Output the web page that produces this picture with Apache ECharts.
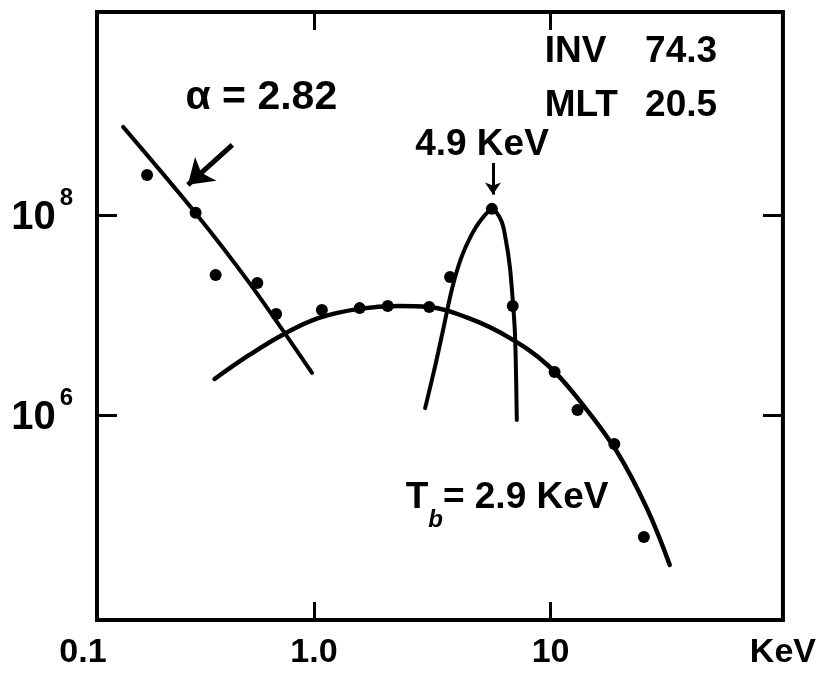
<!DOCTYPE html>
<html><head><meta charset="utf-8">
<script src="https://cdn.jsdelivr.net/npm/echarts@6/dist/echarts.min.js"></script>
<style>html,body{margin:0;padding:0;background:#fff}#c{width:819px;height:674px}</style>
</head><body><div id="c"></div>
<script>
// measured points (energy in keV, flux)
const dotEnergy = [0.197, 0.316, 0.384, 0.576, 0.692, 1.08, 1.56, 2.05, 3.07, 3.76, 5.65, 6.92, 10.4, 13.0, 18.6, 24.8];
const dotFlux   = [2.51e8, 1.05e8, 2.51e7, 2.09e7, 1.02e7, 1.12e7, 1.17e7, 1.23e7, 1.20e7, 2.40e7, 1.15e8, 1.23e7, 2.69e6, 1.12e6, 5.13e5, 6.03e4];
// power-law fit (alpha = 2.82)
const powerLawEnergy = [0.156, 0.313, 0.533, 0.981];
const powerLawFlux   = [7.59e8, 1.07e8, 2.09e7, 2.63e6];
// Maxwellian fit (Tb = 2.9 keV)
const maxwellEnergy = [0.380, 0.533, 0.748, 1.05, 1.55, 2.28, 3.04, 4.48, 6.60, 9.71, 13.6, 19.1, 25.6, 31.9];
const maxwellFlux   = [2.29e6, 3.98e6, 6.46e6, 9.33e6, 1.15e7, 1.23e7, 1.20e7, 9.33e6, 6.03e6, 3.16e6, 1.29e6, 4.27e5, 1.15e5, 3.16e4];
// peaked component (4.9 keV)
const peakEnergy = [2.95, 3.26, 3.55, 3.84, 4.19, 4.61, 5.08, 5.65, 6.17, 6.47, 6.73, 6.92, 7.06, 7.13, 7.20];
const peakFlux   = [1.17e6, 3.16e6, 7.94e6, 1.86e7, 3.72e7, 6.17e7, 8.91e7, 1.12e8, 8.91e7, 5.62e7, 3.02e7, 1.41e7, 7.08e6, 3.31e6, 8.91e5];
// axes
const xMin = 0.121, xMax = 96;
const yMin = 8900, yMax = 1.07e10;
const xTickValues = [1, 10];
const xLabelValues = [0.121, 1, 10, 96];
const xLabelTexts = ['0.1', '1.0', '10', 'KeV'];
const yTickValues = [1e6, 1e8];
const yLabelExps = ['6', '8'];
// annotations
const annotTexts  = ['{a|α = 2.82}', '{g|INV}', '{g|74.3}', '{g|MLT}', '{g|20.5}', '{g|4.9 KeV}', '{g|T}{sub|b}{g|= 2.9 KeV}'];
const annotEnergy = [0.599, 9.44, 25.1, 9.44, 25.1, 5.13, 2.44];
const annotFlux   = [1.48e9, 4.27e9, 4.27e9, 1.23e9, 1.23e9, 5.01e8, 1.48e5];
const annotAlign  = ['center', 'left', 'left', 'left', 'left', 'center', 'left'];
// arrows: [tailE, tailF, headE, headF]
const arrowAlpha = [0.452, 5.01e8, 0.293, 2.0e8];
const arrowPeak  = [5.71, 3.31e8, 5.71, 1.60e8];

const FONT = '"Liberation Sans", Arial, sans-serif';
const chart = echarts.init(document.getElementById('c'), null, {renderer: 'canvas'});

function nearestIdx(arr, v) {
  let best = 0, bd = Infinity;
  arr.forEach((a, i) => { const d = Math.abs(Math.log10(a) - Math.log10(v)); if (d < bd) { bd = d; best = i; } });
  return best;
}

const xBase = {
  type: 'log', min: xMin, max: xMax, splitLine: {show: false}, axisLine: {show: false},
  axisTick: {show: true, inside: true, length: 18, customValues: xTickValues, lineStyle: {color: '#000', width: 3}},
  minorTick: {show: false}
};
const yBase = {
  type: 'log', min: yMin, max: yMax, splitLine: {show: false}, axisLine: {show: false},
  axisTick: {show: true, inside: true, length: 20, customValues: yTickValues, lineStyle: {color: '#000', width: 3}},
  minorTick: {show: false}
};
const curveStyle = {color: '#000', width: 4, cap: 'round', join: 'round'};

const option = {
  animation: false,
  backgroundColor: '#fff',
  grid: {left: 97, right: 32, top: 12, bottom: 54, show: true, borderColor: '#000', borderWidth: 4, backgroundColor: 'transparent'},
  xAxis: [
    Object.assign({}, xBase, {position: 'bottom',
      axisLabel: {show: true, customValues: xLabelValues, margin: 16, color: '#000', fontFamily: FONT, fontSize: 34, fontWeight: 'bold',
        formatter: function (v) { const i = nearestIdx(xLabelValues, v); return i === 0 ? '{f|' + xLabelTexts[i] + '}' : '{l|' + xLabelTexts[i] + '}'; },
        rich: {l: {fontSize: 34, fontWeight: 'bold', fontFamily: FONT, color: '#000'},
               f: {fontSize: 34, fontWeight: 'bold', fontFamily: FONT, color: '#000', padding: [0, 28, 0, 0]}}}}),
    Object.assign({}, xBase, {position: 'top', axisLabel: {show: false}})
  ],
  yAxis: [
    Object.assign({}, yBase, {position: 'left',
      axisLabel: {show: true, customValues: yTickValues, margin: 24, color: '#000',
        formatter: function (v) { const i = nearestIdx(yTickValues, v); return '{b|10}{s|' + yLabelExps[i] + '}'; },
        rich: {b: {fontSize: 40, fontWeight: 'bold', fontFamily: FONT, color: '#000', padding: [6, 0, 0, 0]},
               s: {fontSize: 24, fontWeight: 'bold', fontFamily: FONT, color: '#000', padding: [0, 0, 34, 4]}}}}),
    Object.assign({}, yBase, {position: 'right', axisLabel: {show: false}})
  ],
  series: [
    {type: 'line', name: 'power law', data: powerLawEnergy.map((e, i) => [e, powerLawFlux[i]]), smooth: 0.3, symbol: 'none',
     lineStyle: curveStyle, silent: true, z: 3},
    {type: 'line', name: 'maxwellian', data: maxwellEnergy.map((e, i) => [e, maxwellFlux[i]]), smooth: 0.4, symbol: 'none',
     lineStyle: Object.assign({}, curveStyle, {width: 4.5}), silent: true, z: 3},
    {type: 'line', name: 'peak', data: peakEnergy.map((e, i) => [e, peakFlux[i]]), smooth: 0.35, symbol: 'none',
     lineStyle: curveStyle, silent: true, z: 3},
    {type: 'scatter', name: 'data', data: dotEnergy.map((e, i) => [e, dotFlux[i]]), symbol: 'circle', symbolSize: 12,
     itemStyle: {color: '#000', opacity: 1}, silent: true, z: 4},
    {type: 'lines', coordinateSystem: 'cartesian2d', silent: true, z: 5,
     data: [{coords: [[arrowAlpha[0], arrowAlpha[1]], [arrowAlpha[2], arrowAlpha[3]]], symbolSize: [0, 24], lineStyle: {width: 5}},
            {coords: [[arrowPeak[0], arrowPeak[1]], [arrowPeak[2], arrowPeak[3]]], symbolSize: [0, 12], lineStyle: {width: 3}}],
     symbol: ['none', 'arrow'], lineStyle: {color: '#000', opacity: 1, curveness: 0}},
    {type: 'scatter', name: 'annotations', silent: true, z: 6, symbolSize: 1, itemStyle: {color: 'rgba(0,0,0,0)'},
     data: annotTexts.map((t, i) => ({value: [annotEnergy[i], annotFlux[i]],
       label: {show: true, position: 'inside', align: annotAlign[i], verticalAlign: 'middle', formatter: t}})),
     label: {show: true, color: '#000', opacity: 1,
       rich: {g: {fontSize: 37, fontWeight: 'bold', fontFamily: FONT, color: '#000'},
              a: {fontSize: 41, fontWeight: 'bold', fontFamily: FONT, color: '#000'},
              sub: {fontSize: 24, fontWeight: 'bold', fontStyle: 'italic', fontFamily: FONT, color: '#000', padding: [44, 0, 0, 0]}}}}
  ]
};
chart.setOption(option);
</script>
</body></html>
